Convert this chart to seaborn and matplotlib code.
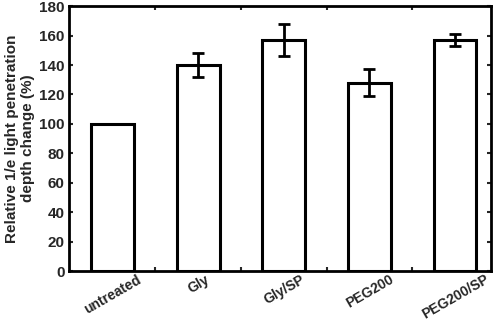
import matplotlib
matplotlib.use("Agg")
import matplotlib.pyplot as plt
import seaborn as sns
import pandas as pd
import numpy as np

sns.set_style("ticks")
plt.rcParams["font.family"] = ["Liberation Sans", "DejaVu Sans"]
plt.rcParams["font.weight"] = "bold"

categories = ["untreated", "Gly", "Gly/SP", "PEG200", "PEG200/SP"]
values = [100, 140, 157, 128, 157]
errors = [0, 8, 11, 9, 4]

df = pd.DataFrame({"treatment": categories, "change": values})

fig = plt.figure(figsize=(5.0, 3.22), dpi=100)
ax = fig.add_axes([0.138, 0.158, 0.844, 0.823])

sns.barplot(data=df, x="treatment", y="change", color="white",
            edgecolor="black", linewidth=2.2, width=0.5, ax=ax,
            errorbar=None)
ax.errorbar(np.arange(len(categories))[1:], values[1:], yerr=errors[1:],
            fmt="none", ecolor="black", elinewidth=2.0, capsize=4.5,
            capthick=2.0, zorder=5)

ax.set_xlim(-0.51, 4.42)
ax.set_ylim(0, 180)
ax.set_yticks(np.arange(0, 181, 20))
ax.set_xticks(np.arange(len(categories)))
ax.set_xticklabels(categories, rotation=30, ha="center", fontsize=10,
                   fontweight="bold")
ax.set_xticks(np.arange(0.5, 4.0, 1.0), minor=True)
ax.tick_params(axis="x", which="major", length=0, pad=1)
ax.tick_params(axis="x", which="minor", direction="in", length=3,
               width=1.5, top=True, bottom=True)
ax.tick_params(axis="y", which="major", direction="in", length=3,
               width=1.5, left=True, right=True, labelsize=11, pad=3)
for lbl in ax.get_yticklabels():
    lbl.set_fontweight("bold")

for side in ["left", "right", "top", "bottom"]:
    ax.spines[side].set_visible(True)
    ax.spines[side].set_linewidth(2.0)
    ax.spines[side].set_color("black")

ax.set_xlabel("")
ax.set_ylabel("Relative 1/e light penetration\ndepth change (%)",
              fontsize=11, fontweight="bold", labelpad=3)

fig.savefig("out.png", dpi=100)
